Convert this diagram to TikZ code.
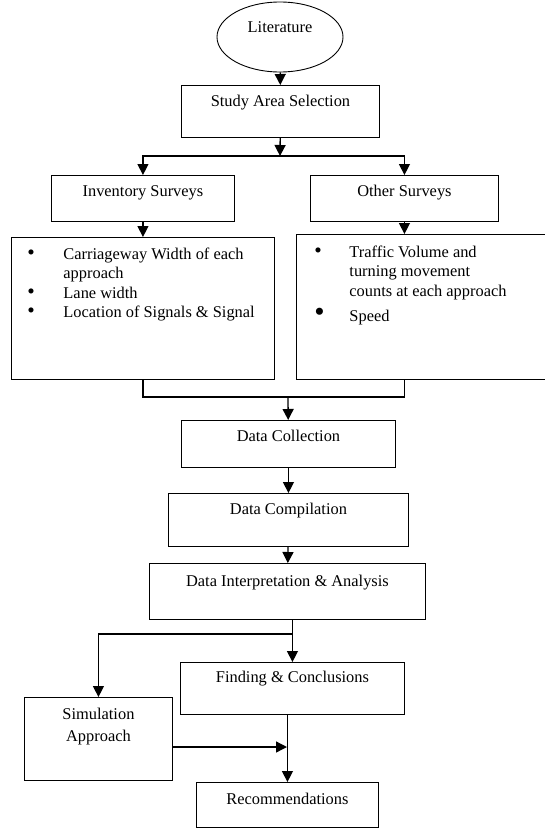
\documentclass[tikz,border=0pt]{standalone}
\usepackage{fontspec}
\setmainfont{Liberation Serif}
\usetikzlibrary{shapes.geometric, arrows.meta}
\newcommand{\dotmark}[1][1.3]{\scalebox{#1}{\textbullet}}

\begin{document}
\begin{tikzpicture}[
    x=1pt, y=-1pt,
    font=\fontsize{16.4}{19.5}\selectfont,
    source/.style={ellipse, draw, line width=0.9pt, fill=white, inner sep=0pt, minimum width=126pt, minimum height=70pt, text height=12pt, text depth=22pt},
    stage/.style={rectangle, draw, line width=0.9pt, fill=white, inner sep=0pt, anchor=north west, align=center, text height=21pt},
    survey/.style={rectangle, draw, line width=0.9pt, fill=white, inner sep=0pt, anchor=north west},
    arrow/.style={-{Triangle[length=11pt, width=11pt]}, line width=1.3pt},
    link/.style={line width=1.3pt}
]

% Frame
\useasboundingbox (0,0) rectangle (545,828);
\clip (0,0) rectangle (545,828);

% Nodes
\node[source] (lit) at (280,37) {Literature};
\node[stage, minimum width=198pt, text depth=31pt] (study) at (181,85) {Study Area Selection};
\node[stage, minimum width=183pt, text depth=25pt] (inv) at (51,175) {Inventory Surveys};
\node[stage, minimum width=188pt, text depth=25pt] (other) at (310,175) {Other Surveys};
\node[survey, text height=22pt, text depth=120pt] (invlist) at (11,237) {\begin{tabular}[t]{@{\hspace{16pt}}p{36pt}@{}p{211pt}@{}}
\dotmark & Carriageway Width of each\\
 & approach\\
\dotmark & Lane width\\
\dotmark & Location of Signals \& Signal
\end{tabular}};
\node[survey, text height=23pt, text depth=122pt] (othlist) at (296,234) {\begin{tabular}[t]{@{\hspace{18pt}}p{35pt}@{}p{199pt}@{}}
\dotmark & Traffic Volume and\\
 & turning movement\\
 & counts at each approach\\[6pt]
\dotmark[1.8] & Speed
\end{tabular}};
\node[stage, minimum width=214pt, text depth=26pt] (coll) at (181,420) {Data Collection};
\node[stage, minimum width=240pt, text depth=32pt] (comp) at (168,493) {Data Compilation};
\node[stage, minimum width=276pt, text height=23pt, text depth=33pt] (interp) at (149,563) {Data Interpretation \& Analysis};
\node[stage, minimum width=224pt, text height=20pt, text depth=32pt] (find) at (180,662) {Finding \& Conclusions};
\node[stage, minimum width=148pt, text height=44pt, text depth=39pt] (sim) at (24,697) {Simulation\\[2.5pt]Approach};
\node[stage, minimum width=182pt, text height=22pt, text depth=23pt] (rec) at (196,782) {Recommendations};

% Junctions
\coordinate (split) at (280,156);
\coordinate (merge) at (288,397);
\coordinate (fork) at (292,634);
\coordinate (join) at (287,747);

% Arrows
\draw[arrow] (lit) -- (study);
\draw[arrow] (study) -- (split);
\draw[arrow] (split) -| (inv);
\draw[arrow] (split) -| (other);
\draw[arrow] (inv) -- (invlist);
\draw[arrow] (other) -- (other |- othlist.north);
\draw[link] (invlist) |- (merge) -| (other |- othlist.south);
\draw[arrow] (merge) -- (coll);
\draw[arrow] (coll) -- (comp);
\draw[arrow] (comp) -- (interp);
\draw[arrow] (find |- interp.south) -- (find);
\draw[arrow] (fork) -| (sim);
\draw[arrow] (rec |- find.south) -- (rec);
\draw[arrow] (sim.east |- join) -- (join);

\end{tikzpicture}
\end{document}
